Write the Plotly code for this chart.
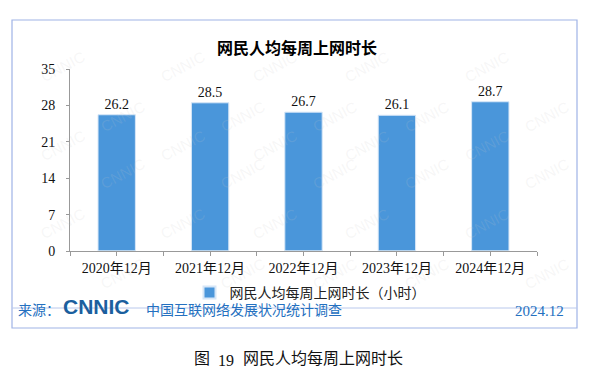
import plotly.graph_objects as go

categories = ["2020年12月", "2021年12月", "2022年12月", "2023年12月", "2024年12月"]
values = [26.2, 28.5, 26.7, 26.1, 28.7]
y_ticks = [0, 7, 14, 21, 28, 35]
series_name = "网民人均每周上网时长（小时）"

W, H = 595, 392
L, R, T, B = 70, 537, 69, 251

def px(x):
    return (x - L) / (R - L)

def py(y):
    return (B - y) / (B - T)

SERIF = "Liberation Serif, Noto Sans CJK SC, serif"
CJK = "Noto Sans CJK SC, sans-serif"
BLUE_BAR = "#4a96da"
FOOT_BLUE = "#2470c0"
BORDER = "#9fb3e6"

fig = go.Figure()
fig.add_trace(go.Bar(
    x=categories, y=values, name=series_name,
    marker=dict(color=BLUE_BAR, line=dict(color="#d6e6f7", width=1)),
    text=[f"{v:.1f}" for v in values], textposition="outside",
    textfont=dict(family=SERIF, size=14, color="#111"),
    cliponaxis=False, width=0.4,
))
# invisible trace for boundary ticks
fig.add_trace(go.Bar(x=categories, y=[0]*len(categories), xaxis="x2",
                     showlegend=False, hoverinfo="skip", marker=dict(color="rgba(0,0,0,0)")))

shapes = [
    dict(type="rect", xref="paper", yref="paper", x0=px(12), x1=px(577), y0=py(328), y1=py(20),
         line=dict(color=BORDER, width=1.2), layer="below"),
    dict(type="line", xref="paper", yref="paper", x0=px(12), x1=px(577), y0=py(308), y1=py(308),
         line=dict(color="#b9c8ec", width=1)),
]

FY = 321
annotations = [
    dict(text="<b>网民人均每周上网时长</b>", x=px(297), y=py(33), xref="paper", yref="paper",
         showarrow=False, font=dict(family=CJK, size=16, color="#000")),
    dict(text="来源：", x=px(16), y=py(FY), xref="paper", yref="paper", xanchor="left",
         showarrow=False, font=dict(family=CJK, size=14, color=FOOT_BLUE)),
    dict(text="<b>CNNIC</b>", x=px(61), y=py(FY - 1), xref="paper", yref="paper", xanchor="left",
         showarrow=False, font=dict(family="Liberation Sans, Arial, sans-serif", size=21, color="#1b5f9e")),
    dict(text="中国互联网络发展状况统计调查", x=px(144), y=py(FY), xref="paper", yref="paper", xanchor="left",
         showarrow=False, font=dict(family=CJK, size=14, color=FOOT_BLUE)),
    dict(text="2024.12", x=px(566), y=py(FY), xref="paper", yref="paper", xanchor="right",
         showarrow=False, font=dict(family=SERIF, size=15, color=FOOT_BLUE)),
    dict(text="图", x=px(192), y=py(371), xref="paper", yref="paper",
         showarrow=False, font=dict(family=CJK, size=16, color="#111")),
    dict(text="19", x=px(216), y=py(371), xref="paper", yref="paper",
         showarrow=False, font=dict(family=SERIF, size=16, color="#111")),
    dict(text="网民人均每周上网时长", x=px(241), y=py(371), xref="paper", yref="paper", xanchor="left",
         showarrow=False, font=dict(family=CJK, size=16, color="#111")),
]

# faint watermark
wm = []
for r, yy in enumerate(range(45, 300, 50)):
    off = 0 if r % 2 == 0 else 60
    for xx in range(35 + off, 580, 120):
        wm.append(dict(text="CNNIC", x=px(xx), y=py(yy), xref="paper", yref="paper",
                       showarrow=False, textangle=-28,
                       font=dict(family="Liberation Sans, sans-serif", size=15, color="rgba(200,200,200,0.16)")))

fig.update_layout(
    width=W, height=H,
    margin=dict(l=L, r=W - R, t=T, b=H - B, pad=0, autoexpand=False),
    paper_bgcolor="white", plot_bgcolor="rgba(0,0,0,0)",
    showlegend=True,
    legend=dict(orientation="h", xref="container", yref="container",
                x=310 / W, y=1 - 293 / H, xanchor="center", yanchor="middle",
                font=dict(family=CJK, size=14, color="#222"), bgcolor="rgba(0,0,0,0)",
                itemwidth=30, itemsizing="constant"),
    xaxis=dict(type="category", showline=True, linecolor="#999", linewidth=1,
               ticks="outside", ticklen=4, tickcolor="#999", tickson="labels",
               tickfont=dict(family=SERIF, size=14, color="#111"), showgrid=False, automargin=False),
    xaxis2=dict(type="category", overlaying="x", matches="x", showline=False,
                ticks="outside", ticklen=4, tickcolor="#999", tickson="boundaries",
                showticklabels=False, showgrid=False, side="bottom", automargin=False),
    yaxis=dict(range=[0, 35], tickvals=y_ticks, showline=True, linecolor="#999", linewidth=1,
               ticks="outside", ticklen=3, tickcolor="#999", showgrid=False, zeroline=False,
               ticklabelstandoff=8,
               tickfont=dict(family=SERIF, size=14, color="#111"), automargin=False),
    bargap=0.6,
    barmode="overlay",
    shapes=shapes,
    annotations=wm + annotations,
)

fig.write_html("out.html", post_script="document.body.style.margin='0';",
               config={"displayModeBar": False})
